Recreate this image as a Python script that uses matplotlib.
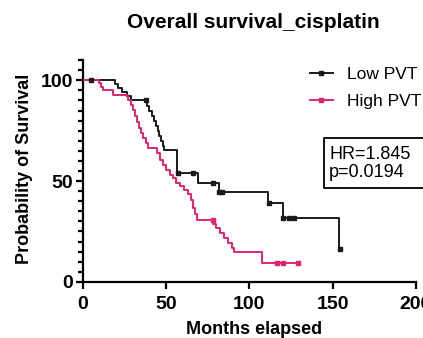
import numpy as np
import matplotlib as mpl
mpl.use('Agg')
import matplotlib.pyplot as plt
from matplotlib.ticker import MultipleLocator
from matplotlib.patches import Rectangle

plt.rcParams['font.family'] = ['Liberation Sans', 'DejaVu Sans']

# Kaplan-Meier steps: event time (months) and survival (%) after the event
low_t = [0, 19, 21, 23.5, 26.5, 29, 38.5, 40, 41.5, 42.5, 44, 45, 46, 47, 48, 49,
         56.5, 69, 82, 111, 120, 154]
low_s = [100, 98, 96, 94, 92, 90, 87.5, 85, 82.5, 80, 77.5, 75, 72.5, 70, 67.5, 65.3,
         54, 49, 44.5, 39, 31.7, 16.3]
low_end = 154.5
low_cens_t = [5, 38, 57, 66, 78, 82, 83.5, 111.5, 120.5, 124, 127, 154.5]

high_t = [0, 9.6, 10.8, 12, 18, 27, 28.8, 30, 31.2, 32.5, 33.7, 34.9, 36, 37.9, 39,
          44.5, 46.3, 48, 49.9, 52.3, 54, 55.9, 58.3, 60.7, 63.1, 64.9, 66.1, 67.3,
          68.5, 78.1, 79.9, 82.3, 84.7, 87.1, 89.5, 90.7, 107.6]
high_s = [100, 98.5, 96.5, 95, 92.6, 90.1, 87.6, 85.1, 82.2, 79.2, 76.2, 73.8, 71.3,
          68.8, 66.3, 63.9, 60.4, 57.9, 55.4, 53, 51.5, 49, 47.5, 45.5, 43.6, 40.6,
          36.6, 33.7, 30.7, 28.7, 26.7, 24.3, 21.8, 19.3, 16.8, 14.9, 9.4]
high_end = 129
high_cens_t = [78, 116.6, 120.2, 129]

hr_text = 'HR=1.845\np=0.0194'

black = '#1a1a1a'
pink = '#e0246e'


def km_at(t, times, surv):
    idx = np.searchsorted(times, t, side='right') - 1
    return np.array(surv)[idx]


fig = plt.figure(figsize=(4.23, 3.38), dpi=100)
ax = fig.add_axes([0.196, 0.166, 0.787, 0.656])

for times, surv, tend, cens, col, lab in [
        (low_t, low_s, low_end, low_cens_t, black, 'Low PVT'),
        (high_t, high_s, high_end, high_cens_t, pink, 'High PVT')]:
    xs = list(times) + [tend]
    ys = list(surv) + [surv[-1]]
    ax.step(xs, ys, where='post', color=col, lw=1.4, zorder=3)
    ax.plot(cens, km_at(np.array(cens), times, surv), 's', color=col, ms=2.6,
            mec=col, zorder=4)
    ax.plot([], [], '-', color=col, lw=1.4, marker='s', ms=2.2, label=lab)

ax.set_xlim(0, 200)
ax.set_ylim(0, 110)
ax.set_xticks([0, 50, 100, 150, 200])
ax.set_yticks([0, 50, 100])
ax.yaxis.set_minor_locator(MultipleLocator(5))

for s in ['top', 'right']:
    ax.spines[s].set_visible(False)
for s in ['left', 'bottom']:
    ax.spines[s].set_linewidth(1.6)
ax.tick_params(axis='both', which='major', direction='out', width=1.6, length=5,
               labelsize=14)
ax.tick_params(axis='y', which='major', pad=2)
ax.tick_params(axis='x', which='major', pad=5)
ax.tick_params(axis='y', which='minor', direction='out', width=1.6, length=3.5)
for lbl in ax.get_xticklabels() + ax.get_yticklabels():
    lbl.set_fontweight('bold')

fig.text(0.598, 0.934, 'Overall survival_cisplatin', ha='center', va='center',
         fontsize=15, fontweight='bold')
fig.text(0.059, 0.50, 'Probability of Survival', ha='center', va='center',
         rotation=90, fontsize=13, fontweight='bold')
fig.text(0.60, 0.025, 'Months elapsed', ha='center', va='center',
         fontsize=13, fontweight='bold')

leg = fig.legend(loc='upper left', bbox_to_anchor=(0.733, 0.803), frameon=False,
                 fontsize=12.5, handlelength=1.3, handletextpad=0.8,
                 labelspacing=0.72, borderaxespad=0, borderpad=0)

# HR / p-value box, running off the right edge
fig.add_artist(Rectangle((324 / 423, 1 - 188 / 338), 110 / 423, 50 / 338,
                         transform=fig.transFigure, fc='white', ec='black',
                         lw=1.3, zorder=5))
fig.text(329 / 423, 0.517, hr_text, ha='left', va='center', fontsize=13,
         linespacing=1.05, zorder=6)

fig.savefig('out.png', dpi=100)
